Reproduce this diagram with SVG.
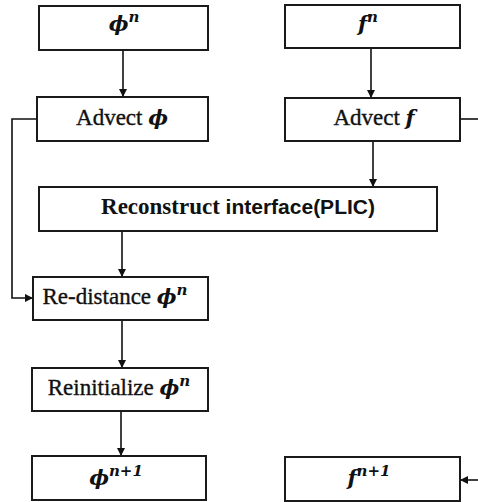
<svg xmlns="http://www.w3.org/2000/svg" width="478" height="502" viewBox="0 0 478 502">
<style>
.box{fill:#fff;stroke:#1a1a1a;stroke-width:2}
.lbl{font-family:"Liberation Serif","DejaVu Serif",serif;font-size:23px;fill:#111;stroke:#111;stroke-width:0.35;text-anchor:middle}
.m{font-family:"DejaVu Serif",serif;font-weight:bold;font-style:italic;font-size:21px;stroke:none}
.sup{font-family:"DejaVu Serif",serif;font-size:15px;font-weight:bold;font-style:italic;stroke:none}
.sans{font-family:"Liberation Sans",Arial,sans-serif;font-weight:bold;font-size:21px;stroke:none}
.b{font-weight:bold;stroke:none}
.con{fill:none;stroke:#111;stroke-width:1.6;marker-end:url(#ah)}
.line{fill:none;stroke:#111;stroke-width:1.6}
</style>
<defs>
<marker id="ah" viewBox="0 0 8 8" refX="8" refY="4" markerWidth="5" markerHeight="5" orient="auto" markerUnits="strokeWidth">
<path d="M0,0 L8,4 L0,8 Z" fill="#111"/>
</marker>
</defs>
<rect width="478" height="502" fill="#fff"/>
<g id="connectors">
<path class="con" d="M123,50 V97"/>
<path class="con" d="M371,49 V98"/>
<path class="con" d="M37,119 H12 V298 H33"/>
<path class="con" d="M373,141 V187"/>
<path class="con" d="M122,231 V277"/>
<path class="con" d="M122,320 V368"/>
<path class="con" d="M121,411 V456"/>
<path class="line" d="M460,119 H478"/>
<path class="con" d="M478,480 H460"/>
</g>
<g id="phi_n">
<rect class="box" x="39" y="6" width="169" height="44"/>
<text class="lbl" x="124" y="31"><tspan class="m">ϕ</tspan><tspan class="sup" dy="-9">n</tspan></text>
</g>
<g id="f_n">
<rect class="box" x="285" y="5" width="175" height="43"/>
<text class="lbl" x="368" y="31"><tspan class="m">f</tspan><tspan class="sup" dy="-9">n</tspan></text>
</g>
<g id="advect_phi">
<rect class="box" x="37" y="97" width="171" height="44"/>
<text class="lbl" x="122" y="125">Advect <tspan class="m">ϕ</tspan></text>
</g>
<g id="advect_f">
<rect class="box" x="285" y="98" width="175" height="43"/>
<text class="lbl" x="374" y="125">Advect <tspan class="m">f</tspan></text>
</g>
<g id="reconstruct">
<rect class="box" x="39" y="187" width="398" height="44"/>
<text class="lbl" x="238" y="214"><tspan class="b">Reconstruct</tspan> <tspan class="sans">interface(PLIC)</tspan></text>
</g>
<g id="redistance">
<rect class="box" x="33" y="277" width="175" height="43"/>
<text class="lbl" x="115" y="304">Re-distance <tspan class="m">ϕ</tspan><tspan class="sup" dy="-9">n</tspan></text>
</g>
<g id="reinitialize">
<rect class="box" x="32" y="368" width="176" height="43"/>
<text class="lbl" x="119" y="395">Reinitialize <tspan class="m">ϕ</tspan><tspan class="sup" dy="-9">n</tspan></text>
</g>
<g id="phi_n1">
<rect class="box" x="32" y="456" width="174" height="44"/>
<text class="lbl" x="116" y="485"><tspan class="m">ϕ</tspan><tspan class="sup" dy="-9">n+1</tspan></text>
</g>
<g id="f_n1">
<rect class="box" x="285" y="457" width="175" height="44"/>
<text class="lbl" x="369" y="485"><tspan class="m">f</tspan><tspan class="sup" dy="-9">n+1</tspan></text>
</g>
</svg>
